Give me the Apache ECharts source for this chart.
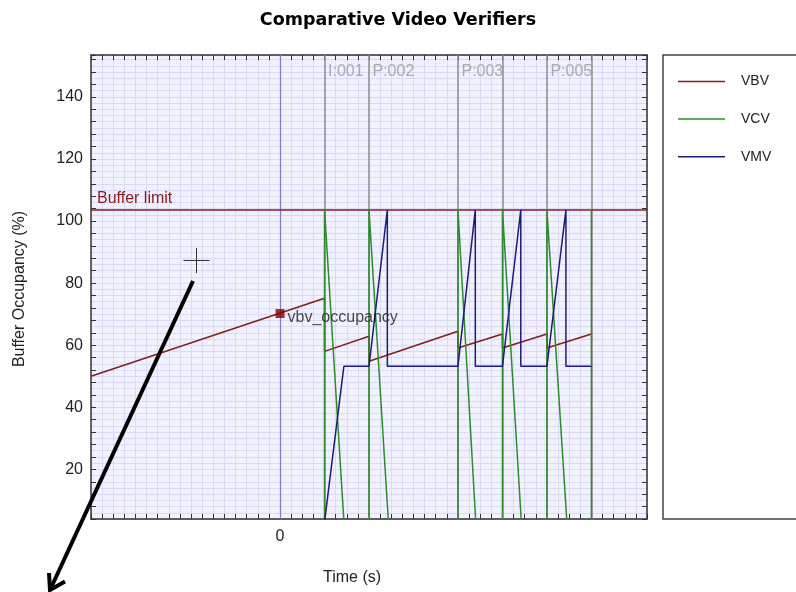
<!DOCTYPE html>
<html><head><meta charset="utf-8">
<script src="https://cdn.jsdelivr.net/npm/echarts@6/dist/echarts.min.js"></script>
<style>html,body{margin:0;padding:0;background:#fff}#c{width:796px;height:592px}</style>
</head><body><div id="c"></div>
<script>
// ---- data ----
const seriesNames = ['VBV', 'VCV', 'VMV'];
const vbvTime  = [-0.17, 0.04, 0.04, 0.08, 0.08, 0.16, 0.16, 0.20, 0.20, 0.24, 0.24, 0.28];
const vbvValue = [50.0, 75.1, 58.0, 62.9, 54.8, 64.5, 59.1, 63.6, 59.1, 63.6, 59.1, 63.6];
const vcvTime  = [0.04, 0.04, 0.058, 0.08, 0.08, 0.098, 0.16, 0.16, 0.1765, 0.20, 0.20, 0.2175, 0.24, 0.24, 0.2585, 0.28, 0.28];
const vcvValue = [0, 103.6, 0, 0, 103.6, 0, 0, 103.6, 0, 0, 103.6, 0, 0, 103.6, 0, 0, 103.6];
const vmvTime  = [0.04, 0.0574, 0.08, 0.0965, 0.0965, 0.16, 0.1756, 0.1756, 0.20, 0.2165, 0.2165, 0.24, 0.2571, 0.2571, 0.28];
const vmvValue = [3, 53.2, 53.2, 103.6, 53.2, 53.2, 103.6, 53.2, 53.2, 103.6, 53.2, 53.2, 103.6, 53.2, 53.2];
const frameTimes  = [0.04, 0.08, 0.16, 0.20, 0.24, 0.28];
const frameLabels = ['I:001', 'P:002', 'P:003', '', 'P:005', ''];
const bufferLimit = 103.6;
const markerTime = [0];
const markerValue = [70.2];
const markerLabel = 'vbv_occupancy';
const yTickLabels = [20, 40, 60, 80, 100, 120, 140];
const xTickLabels = [0];

// ---- chart ----
const X_MIN = -0.17, X_MAX = 0.33, Y_MIN = 4, Y_MAX = 153.5;
const FONT = "'Liberation Sans', Arial, sans-serif";
const zip = (a, b) => a.map((v, i) => [v, b[i]]);
const gridColor = '#DADAF7';

const chart = echarts.init(document.getElementById('c'), null, {renderer: 'canvas'});
const axisCommon = {
  axisLine: {show: true, onZero: false, lineStyle: {color: '#333', width: 1.5}},
  axisTick: {show: true, inside: true, length: 5, lineStyle: {color: '#333', width: 1}}
};
chart.setOption({
  animation: false,
  backgroundColor: '#fff',
  title: {
    text: 'Comparative Video Verifiers', left: 'center', top: 6,
    textStyle: {fontFamily: "'DejaVu Sans', sans-serif", fontWeight: 'bold', fontSize: 17.5, color: '#000'}
  },
  grid: {left: 91, top: 55, width: 556, height: 464, show: true, backgroundColor: '#F1F1FF', borderWidth: 0},
  legend: {
    data: seriesNames, orient: 'vertical', left: 673, top: 69.5,
    icon: 'rect', itemWidth: 47, itemHeight: 1.5, itemGap: 23.6,
    selectedMode: false,
    textStyle: {fontFamily: FONT, fontSize: 14, color: '#222', lineHeight: 14, padding: [0, 0, 0, 11]}
  },
  xAxis: [
    Object.assign({
      type: 'value', min: X_MIN, max: X_MAX, interval: 0.01, position: 'bottom',
      axisLabel: {fontFamily: FONT, fontSize: 16, color: '#222', margin: 10,
        formatter: v => xTickLabels.some(t => Math.abs(v - t) < 1e-9) ? String(Math.round(v)) : ''},
      splitLine: {show: true, lineStyle: {color: gridColor, width: 1}}
    }, axisCommon),
    Object.assign({
      type: 'value', min: X_MIN, max: X_MAX, interval: 0.01, position: 'top',
      axisLabel: {show: false}, splitLine: {show: false}
    }, axisCommon)
  ],
  yAxis: [
    Object.assign({
      type: 'value', min: Y_MIN, max: Y_MAX, interval: 4, position: 'left',
      axisLabel: {fontFamily: FONT, fontSize: 16, color: '#222', margin: 8,
        formatter: v => yTickLabels.includes(Math.round(v)) && Math.abs(v - Math.round(v)) < 1e-9 ? String(Math.round(v)) : ''},
      splitLine: {show: true, lineStyle: {color: gridColor, width: 1}},
      minorTick: {show: false, splitNumber: 2},
      minorSplitLine: {show: true, lineStyle: {color: gridColor, width: 1}}
    }, axisCommon),
    Object.assign({
      type: 'value', min: Y_MIN, max: Y_MAX, interval: 4, position: 'right',
      axisLabel: {show: false}, splitLine: {show: false}
    }, axisCommon)
  ],
  series: [
    {
      name: 'frames', type: 'scatter', z: 1, clip: false, silent: true,
      symbolSize: 1, itemStyle: {color: 'rgba(0,0,0,0)'},
      data: frameTimes.map((t, i) => ({value: [t, Y_MAX], name: frameLabels[i]})),
      label: {show: true, formatter: p => p.name, position: [4, 9], align: 'left', verticalAlign: 'top',
        fontFamily: FONT, fontSize: 16, color: '#9A9A9A'},
      markLine: {
        z: 1, silent: true, symbol: ['none', 'none'], animation: false,
        label: {show: false},
        data: frameTimes.map(t => ({xAxis: t, lineStyle: {color: '#8C8C8C', width: 1.5, type: 'solid'}}))
          .concat(xTickLabels.map(t => ({xAxis: t, lineStyle: {color: '#7C7CC8', width: 1.2, type: 'solid'}})))
      }
    },
    {
      name: seriesNames[0], type: 'line', z: 3, showSymbol: false, symbol: 'none',
      data: zip(vbvTime, vbvValue), color: '#8B1A1A',
      lineStyle: {color: '#8B1A1A', width: 1.5},
      markLine: {
        z: 2, silent: true, symbol: ['none', 'none'], animation: false,
        lineStyle: {color: '#8B1A1A', width: 1.5, type: 'solid'},
        label: {show: true, position: 'insideStartTop', formatter: 'Buffer limit', fontFamily: FONT, fontSize: 16, color: '#8B1A1A', distance: [6, 3]},
        data: [{yAxis: bufferLimit}]
      }
    },
    {
      name: seriesNames[1], type: 'line', z: 3, showSymbol: false, symbol: 'none',
      data: zip(vcvTime, vcvValue), color: '#2C8C2C',
      lineStyle: {color: '#2C8C2C', width: 1.5}
    },
    {
      name: seriesNames[2], type: 'line', z: 4, showSymbol: false, symbol: 'none',
      data: zip(vmvTime, vmvValue), color: '#1C1C7A',
      lineStyle: {color: '#1C1C7A', width: 1.5}
    },
    {
      name: 'marker', type: 'scatter', z: 5, symbol: 'rect', symbolSize: 9,
      data: zip(markerTime, markerValue), itemStyle: {color: '#8B0000'},
      label: {show: true, formatter: markerLabel, position: 'right', distance: 3, offset: [0, 4],
        fontFamily: FONT, fontSize: 16, color: '#1a1a1a'}
    }
  ],
  graphic: [
    {type: 'rect', z: 0, shape: {x: 663, y: 55, width: 160, height: 464},
     style: {fill: '#fff', stroke: '#444', lineWidth: 1.5}},
    {type: 'text', x: 20, y: 289, rotation: Math.PI / 2,
     style: {text: 'Buffer Occupancy (%)', font: "16px 'Liberation Sans', Arial, sans-serif", fill: '#222', align: 'center', verticalAlign: 'middle'}},
    {type: 'text', x: 352, y: 578,
     style: {text: 'Time (s)', font: "16px 'Liberation Sans', Arial, sans-serif", fill: '#222', align: 'center', verticalAlign: 'middle'}},
    {type: 'line', z: 10, shape: {x1: 183.5, y1: 260.5, x2: 209.5, y2: 260.5}, style: {stroke: '#333', lineWidth: 1}},
    {type: 'line', z: 10, shape: {x1: 196.5, y1: 248, x2: 196.5, y2: 273}, style: {stroke: '#333', lineWidth: 1}},
    {type: 'line', z: 10, shape: {x1: 193, y1: 281, x2: 50, y2: 590}, style: {stroke: '#000', lineWidth: 4}},
    {type: 'polyline', z: 10, shape: {points: [[49, 573], [50, 590], [65, 581.5]]}, style: {stroke: '#000', lineWidth: 4, fill: null}}
  ]
});
</script>
</body></html>
